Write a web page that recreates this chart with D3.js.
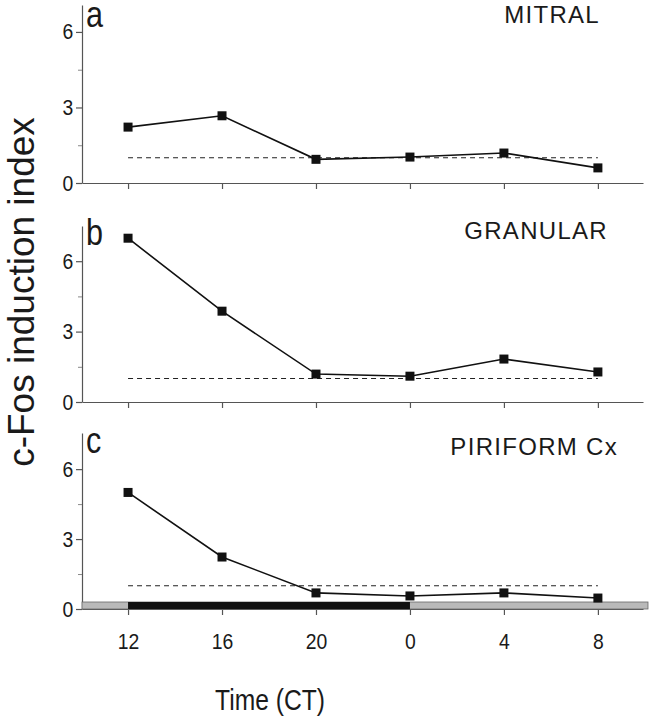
<!DOCTYPE html>
<html>
<head>
<meta charset="utf-8">
<script src="https://cdn.jsdelivr.net/npm/d3@7/dist/d3.min.js"></script>
<style>
  html, body { margin: 0; padding: 0; background: #fff; }
  svg text { font-family: "Liberation Sans", Arial, sans-serif; fill: #1a1a1a; }
</style>
</head>
<body>
<svg id="chart" width="653" height="720"></svg>
<script>
// ---- data ----
const categories = ["12", "16", "20", "0", "4", "8"];
const mitral   = [2.22, 2.67, 0.94, 1.03, 1.19, 0.60];
const granular = [6.98, 3.87, 1.19, 1.10, 1.83, 1.28];
const piriform = [5.00, 2.23, 0.69, 0.56, 0.69, 0.47];
const baseline = 1.0;
const panelLetters = ["a", "b", "c"];
const panelNames = ["MITRAL", "GRANULAR", "PIRIFORM Cx"];
const yTickLabels = [0, 3, 6];
const yMinorTicks = [1.5, 4.5];
const nightSpan = ["12", "0"];   // dark phase on the bar
const xTitle = "Time (CT)";
const yTitle = "c-Fos induction index";

// ---- layout ----
const svg = d3.select("#chart");
const axisColor = "#555";
const fontFam = "Liberation Sans, Arial, sans-serif";
const x = d3.scaleLinear().domain([-0.49, 5.48]).range([82, 643]);
const idx = c => categories.indexOf(c);

const panels = [
  { values: mitral,   y: d3.scaleLinear().domain([0, 7.07]).range([183, 5]) },
  { values: granular, y: d3.scaleLinear().domain([0, 7.5]).range([402, 226]) },
  { values: piriform, y: d3.scaleLinear().domain([0, 7.55]).range([609, 433]) }
];

// narrow, tall label helper (the reference glyphs are slightly condensed)
function condense(sel, k) {
  sel.each(function () {
    const t = d3.select(this);
    t.attr("transform", (t.attr("transform") || "") + ` scale(${k},1)`);
  });
}

panels.forEach((p, i) => {
  const g = svg.append("g");
  const y = p.y;
  const y0 = y(0);

  // y axis major
  const ya = g.append("g").attr("transform", "translate(82,0)")
    .call(d3.axisLeft(y).tickValues(yTickLabels).tickFormat(d3.format("d"))
      .tickSize(6).tickSizeOuter(0).tickPadding(3));
  ya.select(".domain").attr("stroke", axisColor).attr("stroke-width", 1.2);
  ya.selectAll(".tick line").attr("stroke", axisColor).attr("stroke-width", 1.2);
  ya.selectAll(".tick text").attr("font-size", 22).attr("font-family", fontFam)
    .attr("fill", "#1a1a1a").attr("x", -10).call(condense, 0.88);
  // minor ticks
  g.append("g").attr("transform", "translate(82,0)")
    .call(d3.axisLeft(y).tickValues(yMinorTicks).tickSize(4).tickFormat(""))
    .call(s => s.select(".domain").remove())
    .selectAll(".tick line").attr("stroke", "#888").attr("stroke-width", 1);

  // x axis
  const isLast = i === panels.length - 1;
  const xa = g.append("g").attr("transform", `translate(0,${y0})`)
    .call(d3.axisBottom(x).tickValues(d3.range(categories.length)).tickSize(6).tickSizeOuter(0)
      .tickFormat(isLast ? (d => categories[d]) : ""));
  xa.select(".domain").attr("stroke", axisColor).attr("stroke-width", 1.2);
  xa.selectAll(".tick line").attr("stroke", axisColor).attr("stroke-width", 1.2);
  xa.selectAll(".tick text").attr("font-size", 22).attr("dy", "1.4em")
    .attr("font-family", fontFam).attr("fill", "#1a1a1a").call(condense, 0.88);

  if (isLast) {
    // light/dark bar
    g.append("rect").attr("x", x.range()[0]).attr("y", y0 - 7)
      .attr("width", 648 - x.range()[0]).attr("height", 7)
      .attr("fill", "#b9b9b9").attr("stroke", "#666").attr("stroke-width", 0.8);
    g.append("rect").attr("x", x(idx(nightSpan[0]))).attr("y", y0 - 7)
      .attr("width", x(idx(nightSpan[1])) - x(idx(nightSpan[0]))).attr("height", 7)
      .attr("fill", "#111");
  }

  // dashed baseline
  g.append("line")
    .attr("x1", x(0)).attr("x2", x(categories.length - 1))
    .attr("y1", y(baseline)).attr("y2", y(baseline))
    .attr("stroke", "#222").attr("stroke-width", 1.1).attr("stroke-dasharray", "5,4");

  // data line
  const line = d3.line().x((d, j) => x(j)).y(d => y(d));
  g.append("path").datum(p.values).attr("d", line)
    .attr("fill", "none").attr("stroke", "#111").attr("stroke-width", 1.6);
  g.selectAll("rect.pt").data(p.values).join("rect").attr("class", "pt")
    .attr("x", (d, j) => x(j) - 4.5).attr("y", d => y(d) - 4.5)
    .attr("width", 9).attr("height", 9).attr("fill", "#111");

  // panel letter
  g.append("text")
    .attr("transform", `translate(86,${y.range()[1] + [22, 19, 20][i]}) scale(0.9,1.1)`)
    .attr("font-size", 34).text(panelLetters[i]);
  // panel name
  g.append("text").attr("x", [600, 608, 618][i]).attr("y", y.range()[1] + [18, 13, 22][i])
    .attr("text-anchor", "end").attr("font-size", 24).attr("letter-spacing", "1.3px")
    .text(panelNames[i]);
});

// axis titles
svg.append("text").attr("transform", "translate(270,710) scale(0.88,1.05)")
  .attr("text-anchor", "middle").attr("font-size", 28).text(xTitle);
svg.append("text").attr("transform", "translate(34,292) rotate(-90)").attr("text-anchor", "middle")
  .attr("font-size", 37).text(yTitle);
</script>
</body>
</html>
